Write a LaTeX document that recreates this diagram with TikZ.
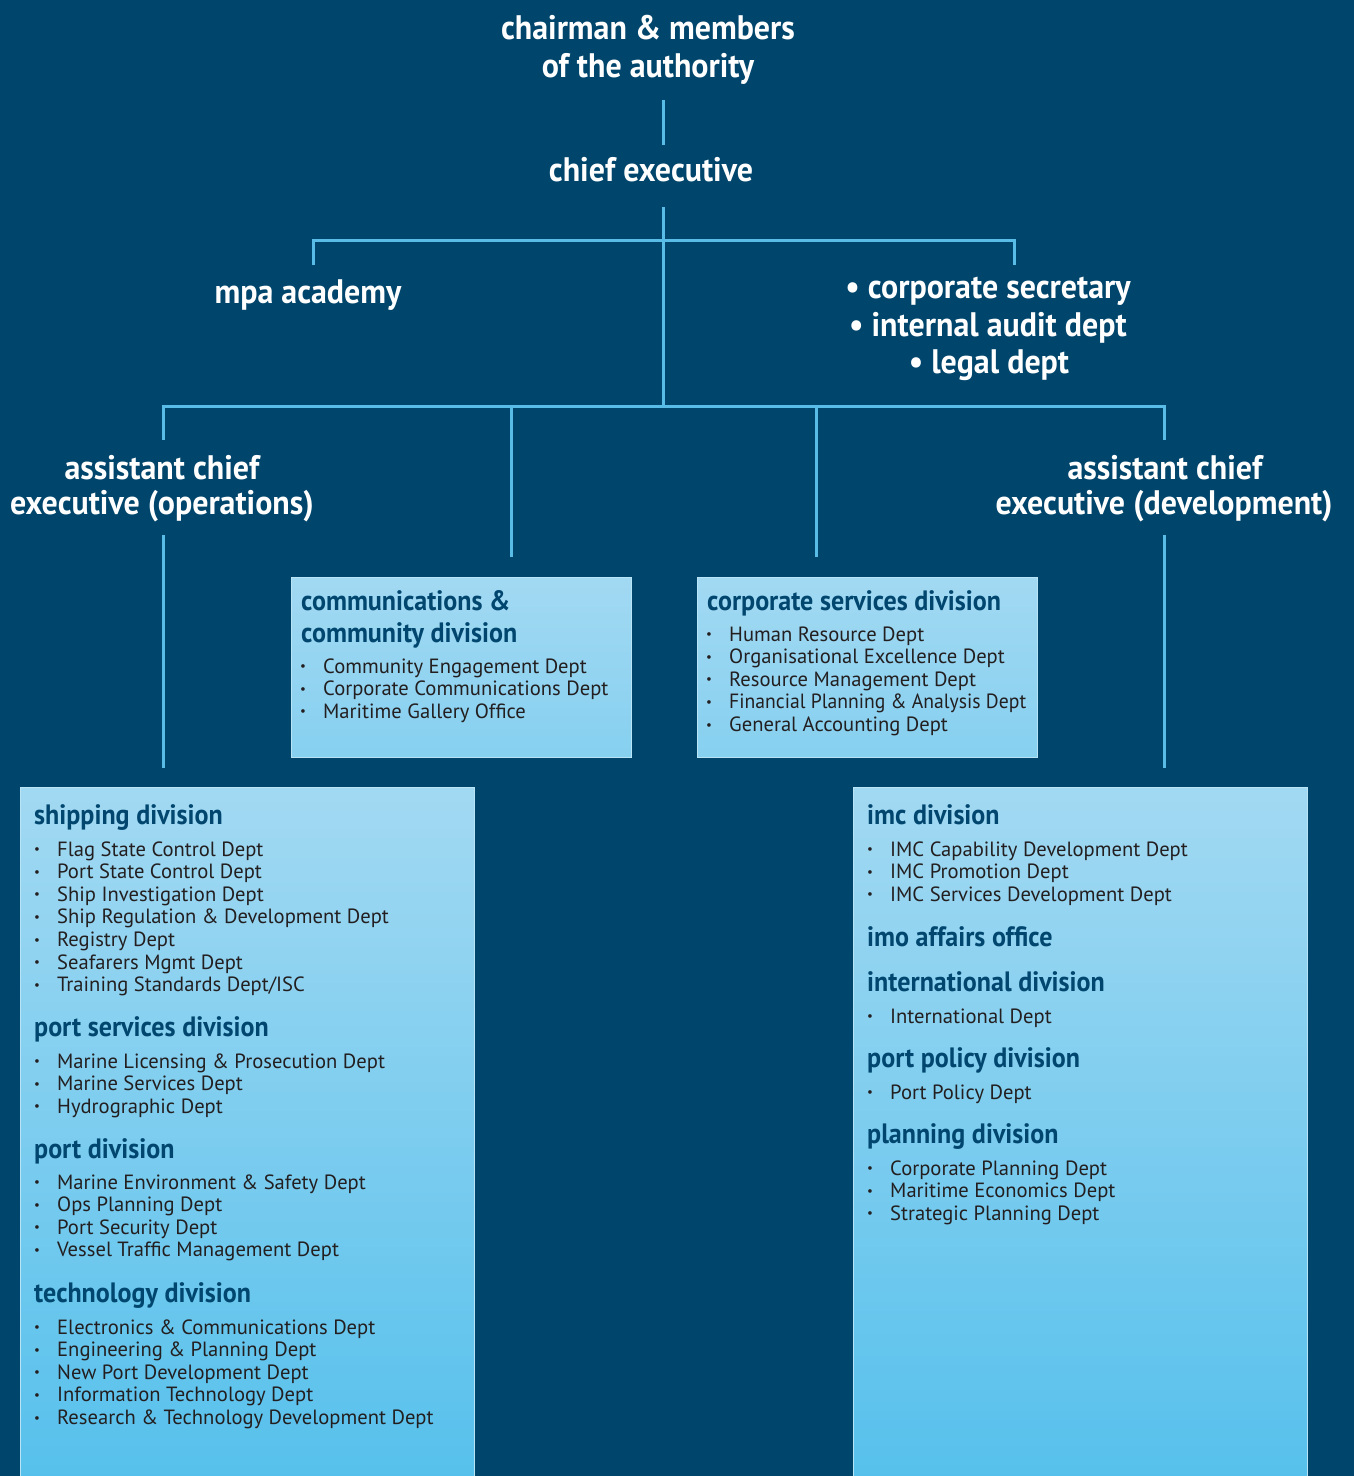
\documentclass[tikz,border=0pt]{standalone}
\usepackage{graphicx}
\usepackage{fontspec}
\setmainfont{PT Sans}
\newfontfamily\hfont{PT Sans Bold}[FakeStretch=0.94]
\newfontfamily\bfont{PT Sans Bold}[FakeStretch=0.93]
\definecolor{bg}{HTML}{00456B}
\definecolor{linec}{HTML}{58BCE7}
\definecolor{headblue}{HTML}{00466E}
\definecolor{itemgray}{HTML}{231F20}
\definecolor{boxtop}{HTML}{A2D9F2}
\definecolor{boxbot}{HTML}{55C0EC}
\definecolor{boxmid}{HTML}{86D0F0}
\definecolor{boxedge}{HTML}{B8E4F6}
\newcommand\itemlist[4]{%
  \foreach \t [count=\i from 0] in {#4}{%
    \node[itemtxt] (#1-\i) at (#2,{#3+\i*22.6}) {\makebox[23pt][l]{\raisebox{2.3pt}{\fontsize{13}{13}\selectfont •}}\t};}}
\begin{document}
\begin{tikzpicture}[x=1pt,y=-1pt,
  titletxt/.style={text=white, font=\hfont\fontsize{34}{38}\selectfont, inner sep=0pt, anchor=base},
  headtxt/.style={text=headblue, font=\bfont\fontsize{28}{32}\selectfont, inner sep=0pt, anchor=base west},
  itemtxt/.style={text=itemgray, font=\fontsize{20.6}{22.6}\selectfont, inner sep=0pt, anchor=base west},
  conn/.style={draw=linec, line width=3pt},
  bigbox/.style={draw=boxedge, line width=1pt, top color=boxtop, bottom color=boxbot, inner sep=0pt, anchor=north west},
  smallbox/.style={draw=boxedge, line width=1pt, top color=boxtop, bottom color=boxmid, inner sep=0pt, anchor=north west}]
\useasboundingbox (0,0) rectangle (1354,1476);
\fill[bg] (0,0) rectangle (1354,1476);

% boxes
\node[smallbox, minimum width=340pt, minimum height=180pt] (comm) at (291,577) {};
\node[smallbox, minimum width=340pt, minimum height=180pt] (corp) at (697,577) {};
\node[bigbox, minimum width=454pt, minimum height=700pt] (ship) at (20,787) {};
\node[bigbox, minimum width=454pt, minimum height=700pt] (imc) at (853,787) {};

% top titles
\node[titletxt] (chair1) at (648,39) {chairman \& members};
\node[titletxt] (chair2) at (648,77) {of the authority};
\node[titletxt] (ce) at (651,181) {chief executive};
\node[titletxt] (mpa) at (308,303) {mpa academy};
\node[titletxt] (sec1) at (988,298) {• corporate secretary};
\node[titletxt] (sec2) at (988,336) {• internal audit dept};
\node[titletxt] (sec3) at (989,373) {• legal dept};
\node[titletxt] (aceo1) at (162,479) {assistant chief};
\node[titletxt] (aceo2) at (162,514) {executive (operations)};
\node[titletxt] (aced1) at (1165,479) {assistant chief};
\node[titletxt] (aced2) at (1164,514) {executive (development)};

% connector coordinates
\coordinate (chairB) at (663,100);
\coordinate (ceT) at (663,145);
\coordinate (ceB) at (663,207);
\coordinate (j1) at (663,240);
\coordinate (j2) at (663,406);
\coordinate (mpaT) at (313,265);
\coordinate (secT) at (1014,265);
\coordinate (aceoT) at (163,440);
\coordinate (acedT) at (1164,440);
\coordinate (commT) at (511,557);
\coordinate (corpT) at (816,557);
\coordinate (aceoB) at (163,535);
\coordinate (acedB) at (1164,535);
\coordinate (shipT) at (163,768);
\coordinate (imcT) at (1164,768);

\draw[conn] (chairB) -- (ceT);
\draw[conn] (ceB) -- (j2);
\draw[conn] (mpaT) |- (j1) -| (secT);
\draw[conn] (aceoT) |- (j2) -| (acedT);
\draw[conn] (commT) -- (commT |- j2);
\draw[conn] (corpT) -- (corpT |- j2);
\draw[conn] (aceoB) -- (shipT);
\draw[conn] (acedB) -- (imcT);

% communications box
\node[headtxt] (commh1) at (301,610) {communications \&};
\node[headtxt] (commh2) at (301,642) {community division};
\itemlist{commi}{300}{673}{Community Engagement Dept, Corporate Communications Dept, Maritime Gallery Office}

% corporate box
\node[headtxt] (corph) at (707,610) {corporate services division};
\itemlist{corpi}{706}{641}{Human Resource Dept, Organisational Excellence Dept, Resource Management Dept, \scalebox{0.955}[1]{Financial Planning \& Analysis Dept}, General Accounting Dept}

% shipping box
\node[headtxt] (shiph) at (34,824) {shipping division};
\itemlist{shipi}{34}{856}{Flag State Control Dept, Port State Control Dept, Ship Investigation Dept, Ship Regulation \& Development Dept, Registry Dept, Seafarers Mgmt Dept, Training Standards Dept/ISC}
\node[headtxt] (psh) at (34,1036) {port services division};
\itemlist{psi}{34}{1068}{Marine Licensing \& Prosecution Dept, Marine Services Dept, Hydrographic Dept}
\node[headtxt] (pdh) at (34,1158) {port division};
\itemlist{pdi}{34}{1189}{Marine Environment \& Safety Dept, Ops Planning Dept, Port Security Dept, Vessel Traffic Management Dept}
\node[headtxt] (tdh) at (34,1302) {technology division};
\itemlist{tdi}{34}{1334}{Electronics \& Communications Dept, Engineering \& Planning Dept, New Port Development Dept, Information Technology Dept, Research \& Technology Development Dept}

% imc box
\node[headtxt] (imch) at (867,824) {imc division};
\itemlist{imci}{867}{856}{IMC Capability Development Dept, IMC Promotion Dept, IMC Services Development Dept}
\node[headtxt] (imoh) at (867,946) {imo affairs office};
\node[headtxt] (inth) at (867,991) {international division};
\itemlist{inti}{867}{1023}{International Dept}
\node[headtxt] (pph) at (867,1067) {port policy division};
\itemlist{ppi}{867}{1099}{Port Policy Dept}
\node[headtxt] (plh) at (867,1143) {planning division};
\itemlist{pli}{867}{1175}{Corporate Planning Dept, Maritime Economics Dept, Strategic Planning Dept}
\end{tikzpicture}
\end{document}
